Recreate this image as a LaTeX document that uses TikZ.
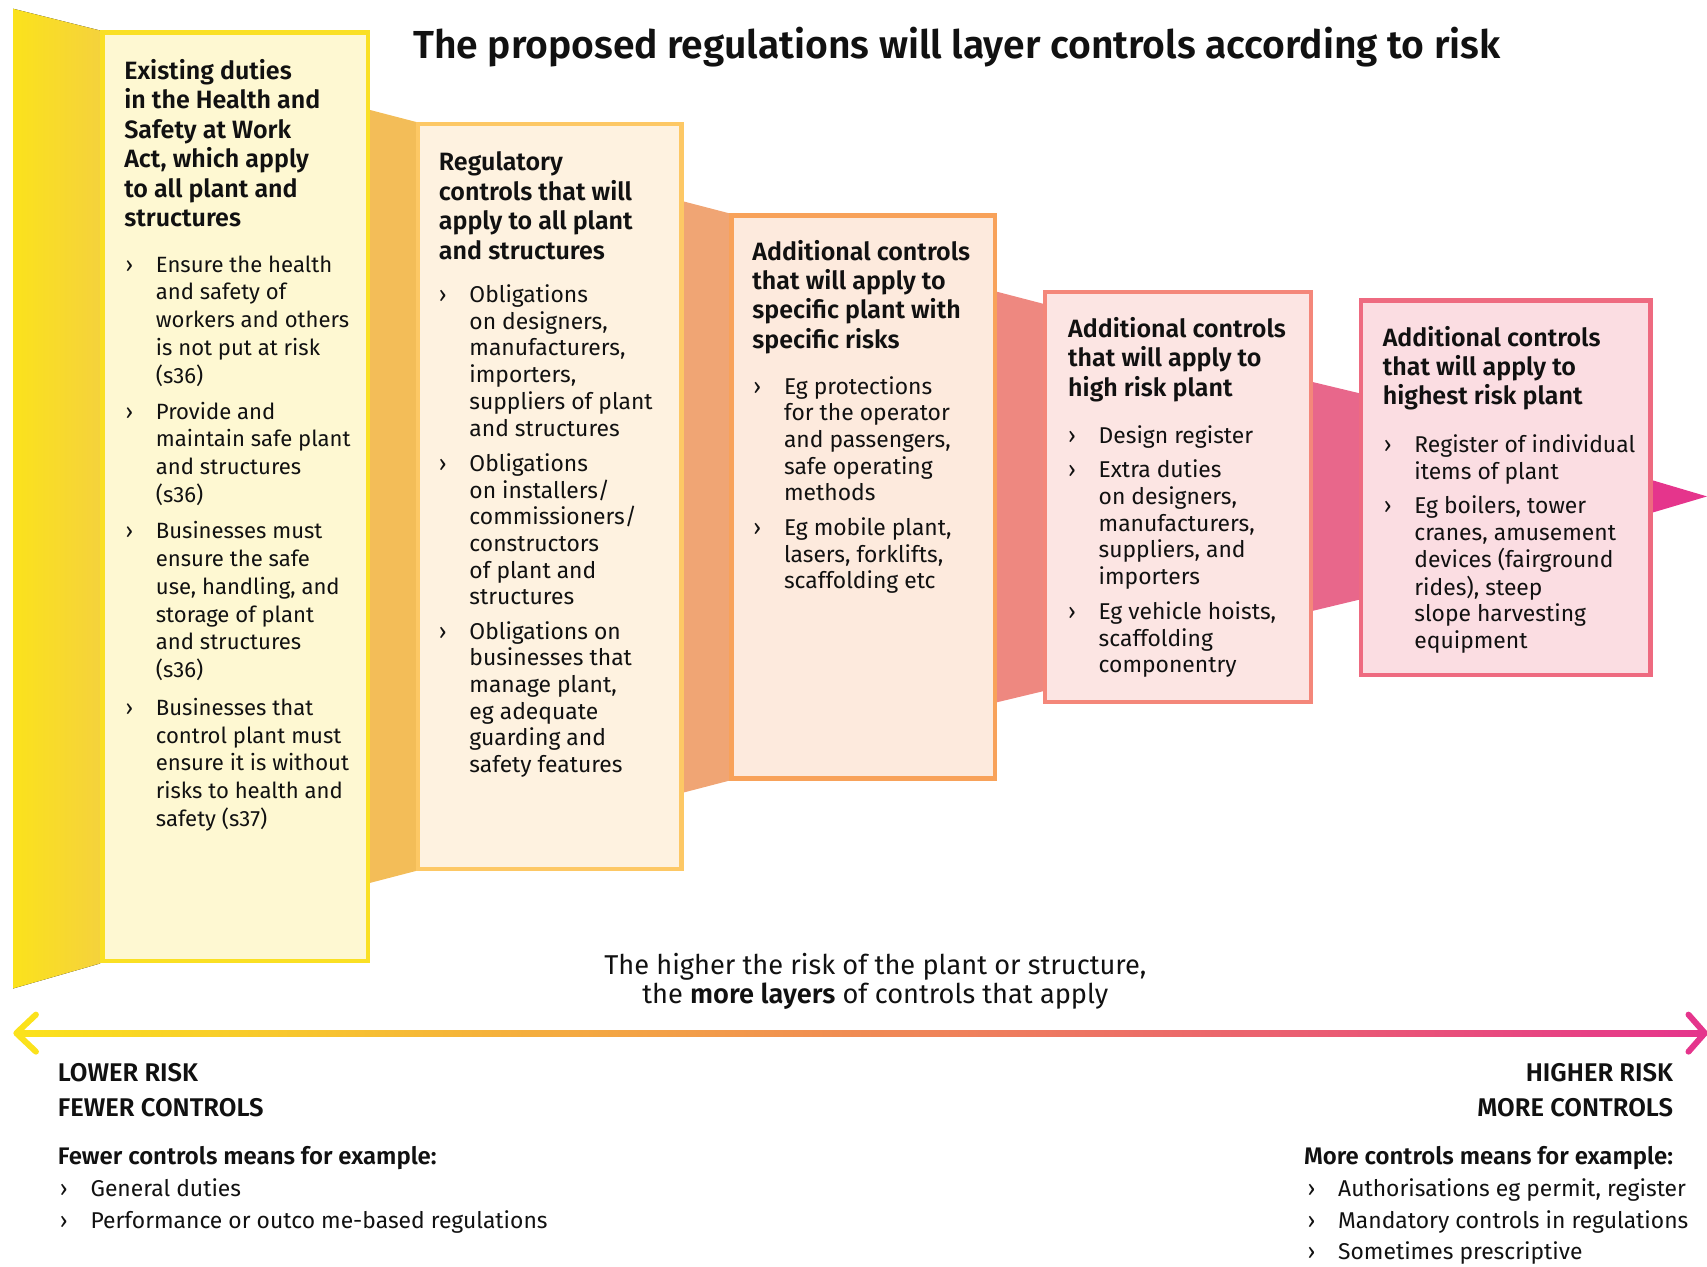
\documentclass[tikz,border=0pt]{standalone}
\usepackage{fontspec}
\setmainfont{Fira Sans}[BoldFont={Fira Sans SemiBold}]
\usetikzlibrary{shapes.geometric}
\definecolor{ywA}{HTML}{FBE21C}
\definecolor{ywB}{HTML}{F5D23C}
\definecolor{bdA}{HTML}{FAE024}
\definecolor{fiA}{HTML}{FEF8D2}
\definecolor{cnA}{HTML}{F3BD58}
\definecolor{bdB}{HTML}{FDC865}
\definecolor{fiB}{HTML}{FEF2E0}
\definecolor{cnB}{HTML}{F0A574}
\definecolor{bdC}{HTML}{F8A25A}
\definecolor{fiC}{HTML}{FDEADD}
\definecolor{cnC}{HTML}{EE8880}
\definecolor{bdD}{HTML}{F4877A}
\definecolor{fiD}{HTML}{FCE5E3}
\definecolor{cnD}{HTML}{E8678B}
\definecolor{bdE}{HTML}{EE6A80}
\definecolor{fiE}{HTML}{FBDDE2}
\definecolor{tipE}{HTML}{E5358C}
\definecolor{lnM}{HTML}{F0A278}
\definecolor{txt}{HTML}{111111}
\newcommand{\bl}{\llap{›\hspace{21pt}}}
\newcommand{\lns}[1]{\begin{tabular}[t]{@{}l@{}}#1\end{tabular}}
\newcommand{\clns}[1]{\begin{tabular}[t]{@{}c@{}}#1\end{tabular}}
\begin{document}
\begin{tikzpicture}[x=1pt,y=-1pt,
  layerbox/.style={draw,line width=4pt,inner sep=0pt,outer sep=0pt,anchor=north west},
  head/.style={anchor=base west,inner sep=0pt,text=txt,font=\bfseries\fontsize{23}{27}\selectfont},
  bodyA/.style={anchor=base west,inner sep=0pt,text=txt,font=\fontsize{20.3}{25.5}\selectfont},
  bodyB/.style={anchor=base west,inner sep=0pt,text=txt,font=\fontsize{21}{24.5}\selectfont},
  foot/.style={inner sep=0pt,text=txt,font=\bfseries\fontsize{23.5}{30}\selectfont}]
\useasboundingbox (0,0) rectangle (1568,1163);
% wedge and connectors
\fill[left color=ywA,right color=ywB] (12,8) -- (92,28) -- (92,885) -- (12,908) -- cycle;
\fill[cnA] (336,100) -- (386,113) -- (386,799) -- (336,812) -- cycle;
\fill[cnB] (624,184) -- (674,197) -- (674,716) -- (624,729) -- cycle;
\fill[cnC] (912,267) -- (962,280) -- (962,634) -- (912,646) -- cycle;
\fill[cnD] (1202,350) -- (1252,362) -- (1252,550) -- (1202,562) -- cycle;
\fill[tipE] (1514,440) -- (1568,456) -- (1514,472) -- cycle;
% boxes
\node[layerbox,draw=bdA,fill=fiA,minimum width=244pt,minimum height=853pt] (b1) at (94,30) {};
\node[layerbox,draw=bdB,fill=fiB,minimum width=242pt,minimum height=684pt] (b2) at (384,114) {};
\node[layerbox,draw=bdC,fill=fiC,minimum width=242pt,minimum height=517pt] (b3) at (672,198) {};
\node[layerbox,draw=bdD,fill=fiD,minimum width=244pt,minimum height=377pt] (b4) at (960,268) {};
\node[layerbox,draw=bdE,fill=fiE,minimum width=266pt,minimum height=344pt] (b5) at (1250,276) {};
% title
\node[anchor=base,inner sep=0pt,text=txt,font=\bfseries\fontsize{35.9}{40}\selectfont] (title) at (879,54) {The proposed regulations will layer controls according to risk};
% box 1
\node[head] (h1) at (114,73) {\lns{Existing duties\\in the Health and\\Safety at Work\\Act, which apply\\to all plant and\\structures}};
\node[bodyA] (p11) at (143,250) {\lns{\bl Ensure the health\\and safety of\\workers and others\\is not put at risk\\(s36)}};
\node[bodyA] (p12) at (143,385) {\lns{\bl Provide and\\maintain safe plant\\and structures\\(s36)}};
\node[bodyA] (p13) at (143,495) {\lns{\bl Businesses must\\ensure the safe\\use, handling, and\\storage of plant\\and structures\\(s36)}};
\node[bodyA] (p14) at (143,657) {\lns{\bl Businesses that\\control plant must\\ensure it is without\\risks to health and\\safety (s37)}};
% box 2
\node[head] (h2) at (403,157) {\lns{Regulatory\\controls that will\\apply to all plant\\and structures}};
\node[bodyB] (p21) at (431,278) {\lns{\bl Obligations\\on designers,\\manufacturers,\\importers,\\suppliers of plant\\and structures}};
\node[bodyB] (p22) at (431,433) {\lns{\bl Obligations\\on installers/\\commissioners/\\constructors\\of plant and\\structures}};
\node[bodyB] (p23) at (431,587) {\lns{\bl Obligations on\\businesses that\\manage plant,\\eg adequate\\guarding and\\safety features}};
% box 3
\node[head] (h3) at (691,239) {\lns{Additional controls\\that will apply to\\specific plant with\\specific risks}};
\node[bodyB] (p31) at (720,362) {\lns{\bl Eg protections\\for the operator\\and passengers,\\safe operating\\methods}};
\node[bodyB] (p32) at (720,492) {\lns{\bl Eg mobile plant,\\lasers, forklifts,\\scaffolding etc}};
% box 4
\node[head] (h4) at (981,310) {\lns{Additional controls\\that will apply to\\high risk plant}};
\node[bodyB] (p41) at (1009,407) {\lns{\bl Design register}};
\node[bodyB] (p42) at (1009,439) {\lns{\bl Extra duties\\on designers,\\manufacturers,\\suppliers, and\\importers}};
\node[bodyB] (p43) at (1009,569) {\lns{\bl Eg vehicle hoists,\\scaffolding\\componentry}};
% box 5
\node[head] (h5) at (1270,318) {\lns{Additional controls\\that will apply to\\highest risk plant}};
\node[bodyB] (p51) at (1299,416) {\lns{\bl Register of individual\\items of plant}};
\node[bodyB] (p52) at (1299,472) {\lns{\bl Eg boilers, tower\\cranes, amusement\\devices (fairground\\rides), steep\\slope harvesting\\equipment}};
% bottom caption
\node[anchor=base,inner sep=0pt,text=txt,font=\fontsize{25}{26.5}\selectfont] (cap) at (804,895) {\clns{The higher the risk of the plant or structure,\\the \textbf{more layers} of controls that apply}};
% gradient scale arrow
\coordinate (aL) at (15,949);
\coordinate (aR) at (1566,949);
\shade[left color=ywA,middle color=lnM,right color=tipE] (18,946.3) rectangle (1563,951.7);
\draw[ywA,line width=5.5pt,line cap=round,line join=round] (33,932) -- (aL) -- (33,966);
\draw[tipE,line width=5.5pt,line cap=round,line join=round] (1551,932) -- (aR) -- (1551,966);
% bottom labels
\node[foot,anchor=base west] (lr) at (53,993) {LOWER RISK};
\node[foot,anchor=base west] (fc) at (53,1026) {FEWER CONTROLS};
\node[foot,anchor=base east] (hr) at (1537,993) {HIGHER RISK};
\node[foot,anchor=base east] (mc) at (1537,1026) {MORE CONTROLS};
\node[foot,anchor=base west,font=\bfseries\fontsize{22}{30}\selectfont] (fe) at (53,1070) {Fewer controls means for example:};
\node[bodyA,font=\fontsize{21}{29}\selectfont] (fe1) at (83,1099) {\lns{\bl General duties\\\bl Performance or outco me-based regulations}};
\node[foot,anchor=base east,font=\bfseries\fontsize{22}{30}\selectfont] (me) at (1537,1070) {More controls means for example:};
\node[bodyA,font=\fontsize{21}{29}\selectfont] (me1) at (1229,1099) {\lns{\bl Authorisations eg permit, register\\\bl Mandatory controls in regulations\\\bl Sometimes prescriptive}};
\end{tikzpicture}
\end{document}
